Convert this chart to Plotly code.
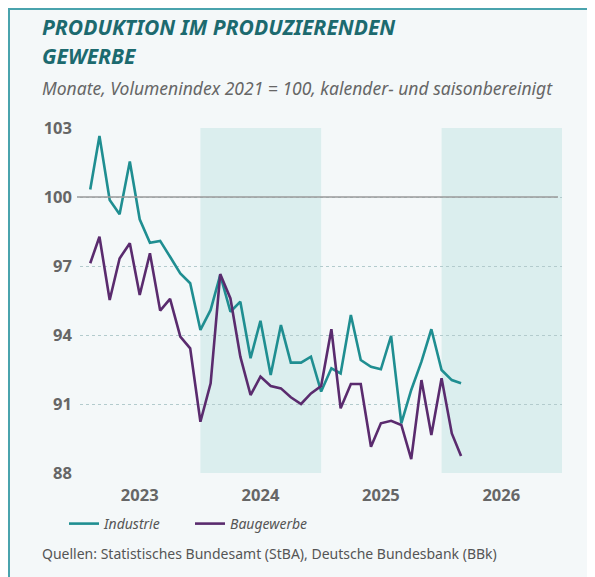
import pandas as pd
import plotly.graph_objects as go

# ---- data ----
monate = pd.date_range("2023-01-01", periods=38, freq="MS").strftime("%Y-%m").tolist()

industrie = [100.33, 102.65, 99.87, 99.25, 101.54, 99.03, 98.01, 98.09, 97.40, 96.68,
             96.25, 94.22, 95.09, 96.61, 95.01, 95.45, 92.99, 94.62, 92.26, 94.43,
             92.80, 92.80, 93.06, 91.54, 92.55, 92.33, 94.87, 92.91, 92.62, 92.51,
             93.96, 90.16, 91.61, 92.84, 94.25, 92.48, 92.04, 91.90]

baugewerbe = [97.12, 98.27, 95.52, 97.33, 97.99, 95.74, 97.55, 95.06, 95.57, 93.93,
              93.42, 90.23, 91.90, 96.65, 95.59, 93.06, 91.39, 92.19, 91.78, 91.68,
              91.29, 91.00, 91.46, 91.78, 94.25, 90.81, 91.87, 91.87, 89.14, 90.16,
              90.27, 90.09, 88.60, 92.04, 89.65, 92.12, 89.72, 88.74]

jahre = ["2023", "2024", "2025", "2026"]
schattierte_jahre = ["2024", "2026"]
y_ticks = [88, 91, 94, 97, 100, 103]

# ---- styling ----
TEAL = "#1f8e91"
PURPLE = "#5a2b6e"
TITLE_C = "#1c6a6f"
BAND = "#dbeeee"
BG = "#f4f8f9"
GRID = "#b3cbcd"
TXT = "#666666"
FONT = "Noto Sans"

# plot area in page pixels (page has an 8px body margin)
PL, PR, PT, PB = 80, 562, 128, 473
PW, PH = PR - PL, PB - PT


def px(xp):
    return (xp - PL) / PW


def py(yp):
    return (PB - yp) / PH


# values are plotted at the end of each month
x_vals = pd.to_datetime(monate) + pd.offsets.MonthBegin(1)

fig = go.Figure()
fig.add_trace(go.Scatter(x=x_vals, y=industrie, mode="lines", name="<i>Industrie</i>",
                         line=dict(color=TEAL, width=2.6)))
fig.add_trace(go.Scatter(x=x_vals, y=baugewerbe, mode="lines", name="<i>Baugewerbe</i>",
                         line=dict(color=PURPLE, width=2.6)))

shapes = []
for j in schattierte_jahre:
    shapes.append(dict(type="rect", xref="x", yref="paper",
                       x0=f"{j}-01-01", x1=f"{int(j)+1}-01-01", y0=0, y1=1,
                       fillcolor=BAND, line=dict(width=0), layer="below"))
# reference line at 100
shapes.append(dict(type="line", xref="paper", yref="y", x0=px(77), x1=px(558),
                   y0=100, y1=100, line=dict(color="#9a9a9a", width=1.6)))
# frame border (top / left)
shapes.append(dict(type="rect", xref="paper", yref="paper",
                   x0=px(9), x1=px(640), y0=py(640), y1=py(9),
                   line=dict(color="#4aa3ad", width=2), fillcolor="rgba(0,0,0,0)",
                   layer="above"))

annotations = [
    dict(text="<b><i>PRODUKTION IM PRODUZIERENDEN</i></b>",
         xref="paper", yref="paper", x=px(40), y=py(27),
         xanchor="left", yanchor="middle", align="left", showarrow=False,
         font=dict(family=FONT, size=21, color=TITLE_C)),
    dict(text="<b><i>GEWERBE</i></b>",
         xref="paper", yref="paper", x=px(40), y=py(56),
         xanchor="left", yanchor="middle", align="left", showarrow=False,
         font=dict(family=FONT, size=21, color=TITLE_C)),
    dict(text="<i>Monate, Volumenindex 2021 = 100, kalender- und saisonbereinigt</i>",
         xref="paper", yref="paper", x=px(40), y=py(88),
         xanchor="left", yanchor="middle", showarrow=False,
         font=dict(family=FONT, size=17.5, color=TXT)),
    dict(text="Quellen: Statistisches Bundesamt (StBA), Deutsche Bundesbank (BBk)",
         xref="paper", yref="paper", x=px(40), y=py(553),
         xanchor="left", yanchor="middle", showarrow=False,
         font=dict(family=FONT, size=14, color="#555555")),
]

fig.update_layout(
    width=587, height=569,
    margin=dict(l=PL - 8, r=595 - PR, t=PT - 8, b=577 - PB),
    paper_bgcolor=BG, plot_bgcolor=BG,
    shapes=shapes, annotations=annotations,
    showlegend=True,
    legend=dict(orientation="h", xref="paper", yref="paper",
                x=px(64), y=py(524),
                xanchor="left", yanchor="middle",
                entrywidth=81, entrywidthmode="pixels",
                bgcolor="rgba(0,0,0,0)",
                font=dict(family=FONT, size=14, color="#555555"),
                itemclick=False),
    xaxis=dict(type="date", range=["2023-01-01", "2027-01-01"],
               tickvals=[f"{j}-07-01" for j in jahre], ticktext=[f"<b>{j}</b>" for j in jahre],
               showgrid=False, zeroline=False, showline=False, ticks="",
               ticklabelstandoff=10,
               tickfont=dict(family=FONT, size=16.5, color=TXT)),
    yaxis=dict(range=[88, 103], tickvals=y_ticks,
               ticktext=[f"<b>{v}</b>" for v in y_ticks],
               showgrid=True, gridcolor=GRID, griddash="dot", gridwidth=1.2,
               zeroline=False, showline=False, ticks="",
               ticklabelstandoff=7,
               tickfont=dict(family=FONT, size=16.5, color=TXT)),
)

fig.write_html("out.html")
